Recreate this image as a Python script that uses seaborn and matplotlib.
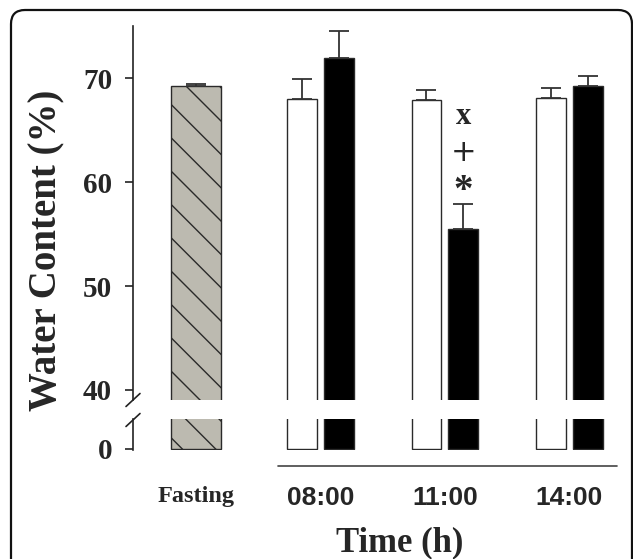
import matplotlib
matplotlib.use("Agg")
import numpy as np
import pandas as pd
import seaborn as sns
import matplotlib.pyplot as plt
from matplotlib.lines import Line2D
from matplotlib.patches import FancyBboxPatch
from matplotlib.transforms import IdentityTransform

# data
categories = ["Fasting", "08:00", "11:00", "14:00"]
times = ["08:00", "11:00", "14:00"]
groups = ["open", "filled"]
fasting_mean = [69.2]
fasting_se = [0.2]
open_means = [68.0, 67.9, 68.1]
open_se = [1.9, 0.9, 0.9]
filled_means = [71.9, 55.5, 69.2]
filled_se = [2.6, 2.4, 1.0]
yticks_hi = [40, 50, 60, 70]
yticks_lo = [0]
marks_11 = ["*", "+", "x"]

fast_df = pd.DataFrame({"time": ["Fasting"], "value": fasting_mean})
pair_df = pd.DataFrame({
    "time": times * 2,
    "group": ["open"] * 3 + ["filled"] * 3,
    "value": open_means + filled_means,
})

sns.set_style("white")
plt.rcParams['font.family'] = ['Liberation Serif', 'DejaVu Serif']

W, H = 633, 559
fig = plt.figure(figsize=(W / 100, H / 100), dpi=100)

def fy(py):
    return 1 - py / H

ax_hi = fig.add_axes([133 / W, fy(400.4), 484 / W, (400.4 - 26) / H])
ax_lo = fig.add_axes([133 / W, fy(449.5), 484 / W, 30.5 / H])

edge = "#2a2a2a"
for ax in (ax_hi, ax_lo):
    sns.barplot(data=fast_df, x="time", y="value", order=categories,
                width=0.4, color="#bcbab0", saturation=1, edgecolor=edge,
                linewidth=1, hatch="\\", errorbar=None, ax=ax)
    sns.barplot(data=pair_df, x="time", y="value", hue="group",
                order=categories, hue_order=groups,
                palette=["white", "black"], saturation=1,
                width=0.594, gap=0.19, edgecolor=edge, linewidth=1,
                errorbar=None, legend=False, ax=ax)
    ax.set_xlim(-0.506, 3.382)
    ax.set_facecolor("none")
    for s in ("top", "right", "bottom"):
        ax.spines[s].set_visible(False)
    ax.spines["left"].set_linewidth(1.2)
    ax.spines["left"].set_color("#222")
    ax.set_xlabel("")
    ax.set_ylabel("")
    ax.tick_params(axis="y", left=True, direction="out", length=6, width=1.2,
                   color="#222", labelsize=21, pad=9)
    for lab in ax.get_yticklabels():
        lab.set_fontweight("bold")

# one-sided error bars on top of each bar
for p in list(ax_hi.patches):
    cx = p.get_x() + p.get_width() / 2
    i = int(round(cx))
    if i == 0:
        se = fasting_se[0]
    else:
        se = (open_se if cx < i else filled_se)[i - 1]
    ax_hi.errorbar(cx, p.get_height(), yerr=[[0], [se]], fmt="none",
                   ecolor="#333", elinewidth=1.3, capsize=7.5, capthick=1.3)
    if i == 2 and cx > i:
        top = p.get_height() + se
        for m, off in zip(marks_11, [1.15, 4.9, 8.4]):
            if m == "+":
                ax_hi.text(cx, top + off, m, ha="center", va="center",
                           fontsize=22, family=["DejaVu Sans"])
            else:
                ax_hi.text(cx, top + off, m, ha="center", va="center",
                           fontsize=22 if m == "x" else 28, fontweight="bold")

ax_hi.set_ylim(39, 75)
ax_hi.set_yticks(yticks_hi)
ax_hi.tick_params(axis="x", bottom=False, labelbottom=False)

ax_lo.set_ylim(-0.05, 2.885)
ax_lo.set_yticks(yticks_lo)
ax_lo.set_xticks(range(len(categories)))
ax_lo.set_xticklabels(categories)
ax_lo.tick_params(axis="x", bottom=False, length=0, pad=26)
for lab in ax_lo.get_xticklabels():
    if lab.get_text() == "Fasting":
        lab.set_fontfamily("Liberation Serif")
        lab.set_fontsize(17.5)
    else:
        lab.set_fontfamily("Liberation Sans")
        lab.set_fontsize(19)
    lab.set_fontweight("bold")
for lab in ax_lo.get_yticklabels():
    lab.set_fontweight("bold")

# axis break marks
for cy in (400.0, 420.0):
    fig.add_artist(Line2D([(133 - 7) / W, (133 + 7) / W],
                          [fy(cy + 6.5), fy(cy - 6.5)],
                          transform=fig.transFigure, color="#222", lw=1.2))

# line under the time groups
fig.add_artist(Line2D([278 / W, 617 / W], [fy(466), fy(466)],
                      transform=fig.transFigure, color="#444", lw=1.2))

fig.text(47 / W, fy(250), "Water Content (%)", rotation=90, ha="center",
         va="center", fontsize=28, fontweight="bold")
fig.text(400 / W, fy(551), "Time (h)", ha="center", va="baseline",
         fontsize=25, fontweight="bold")

# rounded outer frame
frame = FancyBboxPatch((11, -40), 621, 549 + 40,
                       boxstyle="round,pad=0,rounding_size=14",
                       transform=IdentityTransform(), fill=False,
                       edgecolor="#111", lw=1.6)
fig.add_artist(frame)

fig.savefig("out.png", dpi=100)
